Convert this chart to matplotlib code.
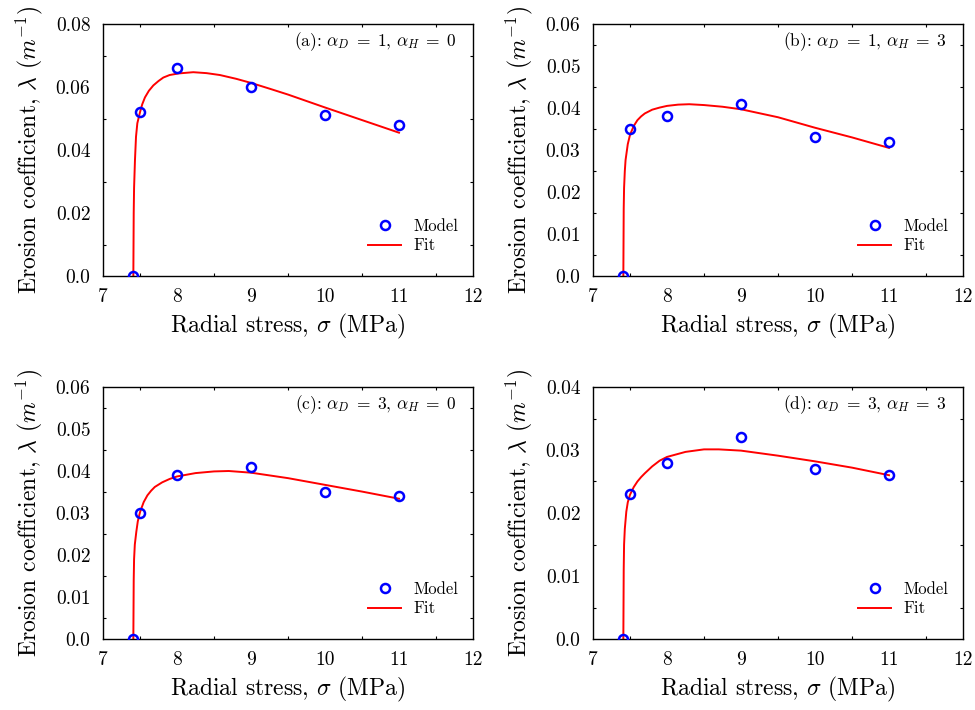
import matplotlib
matplotlib.use("Agg")
import matplotlib.pyplot as plt
from matplotlib.ticker import FixedLocator, FixedFormatter, NullFormatter

plt.rcParams["font.family"] = "serif"
plt.rcParams["font.serif"] = ["cmr10"]
plt.rcParams["mathtext.fontset"] = "cm"
plt.rcParams["axes.unicode_minus"] = False
plt.rcParams["axes.formatter.use_mathtext"] = True

# Model results (stress in MPa, erosion coefficient in 1/m)
model_x = [7.4, 7.5, 8.0, 9.0, 10.0, 11.0]
model_a = [0.0, 0.052, 0.066, 0.060, 0.051, 0.048]
model_b = [0.0, 0.035, 0.038, 0.041, 0.033, 0.032]
model_c = [0.0, 0.030, 0.039, 0.041, 0.035, 0.034]
model_d = [0.0, 0.023, 0.028, 0.032, 0.027, 0.026]

# Fitted curves
fit_x_a = [7.41, 7.415, 7.42, 7.432, 7.446, 7.464, 7.5, 7.53, 7.567, 7.62, 7.68,
           7.75, 7.815, 7.9, 8.02, 8.22, 8.4, 8.58, 8.8, 9.0, 9.26, 9.5, 10.0,
           10.5, 11.0]
fit_y_a = [0.0, 0.020, 0.028, 0.0368, 0.0442, 0.0485, 0.0520, 0.0545, 0.0567,
           0.0588, 0.0605, 0.0619, 0.0630, 0.0638, 0.0643, 0.0647, 0.0644, 0.0638,
           0.0626, 0.0613, 0.0594, 0.0576, 0.0535, 0.0495, 0.0455]

fit_x_b = [7.41, 7.415, 7.42, 7.43, 7.44, 7.47, 7.5, 7.55, 7.6, 7.65, 7.7, 7.8,
           7.9, 8.0, 8.15, 8.3, 8.5, 8.75, 9.0, 9.5, 10.0, 10.5, 11.0]
fit_y_b = [0.0, 0.016, 0.021, 0.025, 0.0276, 0.0314, 0.0336, 0.0357, 0.0371,
           0.0380, 0.0387, 0.0396, 0.0401, 0.0405, 0.0408, 0.0409, 0.0407, 0.0403,
           0.0397, 0.0378, 0.0353, 0.0330, 0.0305]

fit_x_c = [7.41, 7.415, 7.42, 7.43, 7.45, 7.47, 7.5, 7.55, 7.6, 7.65, 7.7, 7.8,
           7.9, 8.0, 8.25, 8.5, 8.7, 9.0, 9.5, 10.0, 10.5, 11.0]
fit_y_c = [0.0, 0.014, 0.019, 0.0225, 0.0255, 0.0280, 0.0302, 0.0326, 0.0342,
           0.0353, 0.0362, 0.0373, 0.0381, 0.0387, 0.0395, 0.0399, 0.0400, 0.0396,
           0.0383, 0.0367, 0.0351, 0.0334]

fit_x_d = [7.41, 7.415, 7.42, 7.43, 7.45, 7.47, 7.5, 7.55, 7.6, 7.65, 7.7, 7.8,
           7.9, 8.0, 8.25, 8.5, 8.7, 9.0, 9.5, 10.0, 10.5, 11.0]
fit_y_d = [0.0, 0.011, 0.015, 0.0175, 0.0202, 0.0217, 0.0229, 0.0241, 0.0250,
           0.0257, 0.0263, 0.0274, 0.0283, 0.0289, 0.0297, 0.0301, 0.0301, 0.0299,
           0.0291, 0.0282, 0.0272, 0.0260]

panel_titles = [r"(a): $\alpha_D\;=\;1$, $\alpha_H\;=\;0$",
                r"(b): $\alpha_D\;=\;1$, $\alpha_H\;=\;3$",
                r"(c): $\alpha_D\;=\;3$, $\alpha_H\;=\;0$",
                r"(d): $\alpha_D\;=\;3$, $\alpha_H\;=\;3$"]

x_ticks = [7, 8, 9, 10, 11, 12]
x_tick_labels = ["7", "8", "9", "10", "11", "12"]

y_ticks_08 = [0.0, 0.02, 0.04, 0.06, 0.08]
y_labels_08 = ["0.0", "0.02", "0.04", "0.06", "0.08"]
y_ticks_06 = [0.0, 0.01, 0.02, 0.03, 0.04, 0.05, 0.06]
y_labels_06 = ["0.0", "0.01", "0.02", "0.03", "0.04", "0.05", "0.06"]
y_ticks_04 = [0.0, 0.01, 0.02, 0.03, 0.04]
y_labels_04 = ["0.0", "0.01", "0.02", "0.03", "0.04"]

panels = [
    (model_a, fit_x_a, fit_y_a, y_ticks_08, y_labels_08),
    (model_b, fit_x_b, fit_y_b, y_ticks_06, y_labels_06),
    (model_c, fit_x_c, fit_y_c, y_ticks_06, y_labels_06),
    (model_d, fit_x_d, fit_y_d, y_ticks_04, y_labels_04),
]

fig = plt.figure(figsize=(9.75, 7.1), dpi=100)
W, H = 975.0, 710.0
boxes = [(103, 24), (593, 24), (103, 387), (593, 387)]  # left, top in pixels
aw, ah = 370, 252

for (left, top), (my, fx, fy, yt, yl), title in zip(boxes, panels, panel_titles):
    ax = fig.add_axes([left / W, (H - top - ah) / H, aw / W, ah / H])
    ax.plot(model_x, my, linestyle="none", marker="o", markersize=6.5,
            markerfacecolor="none", markeredgecolor="blue", markeredgewidth=1.8,
            label="Model", zorder=3)
    ax.plot(fx, fy, color="red", linewidth=1.4, label="Fit", zorder=2)

    ax.set_xlim(7, 12)
    ax.set_ylim(yt[0], yt[-1])
    ax.xaxis.set_major_locator(FixedLocator(x_ticks))
    ax.xaxis.set_major_formatter(FixedFormatter(x_tick_labels))
    ax.yaxis.set_major_locator(FixedLocator(yt))
    ax.yaxis.set_major_formatter(FixedFormatter(yl))
    step_x = x_ticks[1] - x_ticks[0]
    step_y = yt[1] - yt[0]
    ax.xaxis.set_minor_locator(FixedLocator([t + step_x / 2 for t in x_ticks[:-1]]))
    ax.yaxis.set_minor_locator(FixedLocator([t + step_y / 2 for t in yt[:-1]]))
    ax.xaxis.set_minor_formatter(NullFormatter())
    ax.yaxis.set_minor_formatter(NullFormatter())
    ax.tick_params(which="major", length=0, labelsize=14, pad=9)
    ax.tick_params(which="minor", direction="in", length=2.5, width=0.8,
                   top=True, right=True)
    for sp in ax.spines.values():
        sp.set_linewidth(1.0)

    ax.set_xlabel(r"Radial stress, $\sigma$ (MPa)", fontsize=17, labelpad=4)
    ax.set_ylabel(r"Erosion coefficient, $\lambda$ ($m^{-1}$)", fontsize=17,
                  labelpad=8)
    ax.text(0.955, 0.93, title, transform=ax.transAxes, ha="right", va="center",
            fontsize=12.5)
    ax.legend(loc="lower right", frameon=False, fontsize=12,
              bbox_to_anchor=(1.0, 0.03), handlelength=2.0, handletextpad=0.7,
              labelspacing=0.25)

fig.savefig("out.png", dpi=100)
